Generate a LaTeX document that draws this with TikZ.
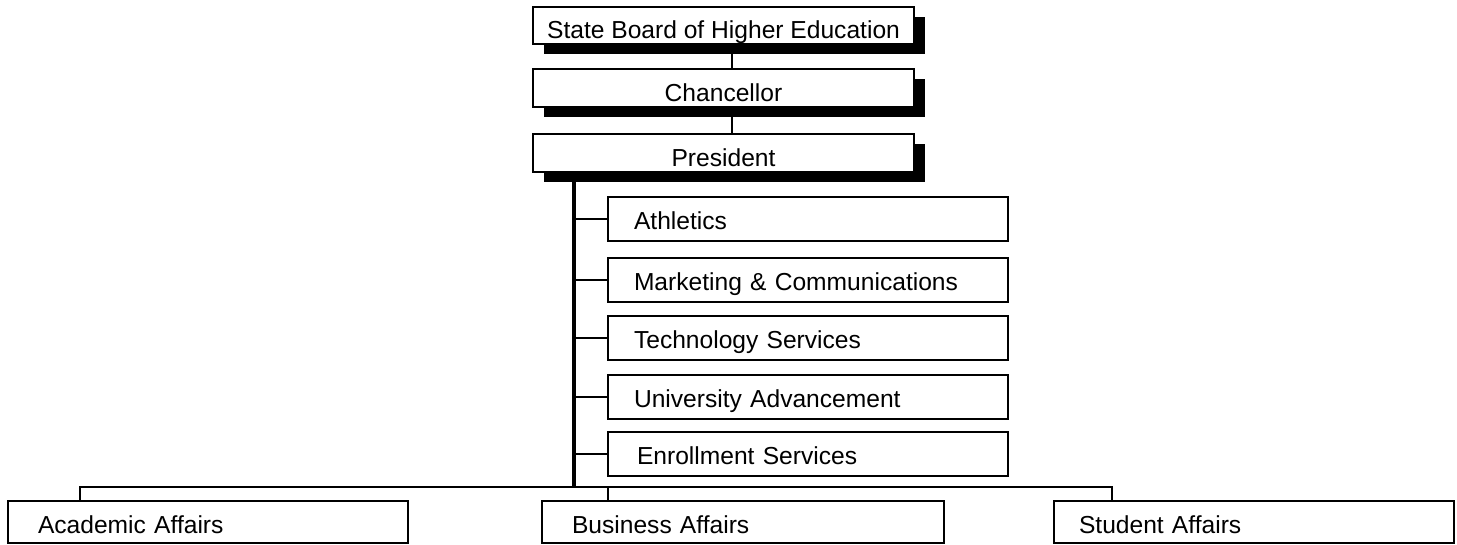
\documentclass[tikz,border=0pt]{standalone}
\usepackage{fontspec}
\setmainfont{Liberation Sans}
\usetikzlibrary{shadows}
\begin{document}
\begin{tikzpicture}[x=1pt,y=-1pt,
  every node/.style={font=\fontsize{24.6}{30}\selectfont},
  topbox/.style={draw,line width=2pt,fill=white,anchor=north west,minimum width=381pt,
    inner ysep=0pt,text height=26pt,text depth=0pt,
    drop shadow={shadow xshift=11pt,shadow yshift=-10pt,fill=black,opacity=1}},
  subbox/.style={draw,line width=2pt,fill=white,anchor=north west,text width=348pt,align=left,
    inner xsep=26pt,inner ysep=0pt,minimum height=44pt,text height=20pt,text depth=0pt},
  botbox/.style={draw,line width=2pt,fill=white,anchor=north west,text width=#1,align=left,
    inner xsep=30pt,inner ysep=0pt,minimum height=42pt,text height=22pt,text depth=0pt},
  conn/.style={line width=2pt},
  trunkline/.style={line width=3.2pt}]
\useasboundingbox (0,0) rectangle (1457,544);
% top chain
\node[topbox,minimum height=37pt] (sbhe) at (532,6) {State Board of Higher Education};
\node[topbox,minimum height=38pt] (chan) at (532,68) {Chancellor};
\node[topbox,minimum height=38pt] (pres) at (532,133) {President};
\draw[conn] ([xshift=8.5pt]sbhe.south) -- ([xshift=8.5pt]chan.north);
\draw[conn] ([xshift=8.5pt]chan.south) -- ([xshift=8.5pt]pres.north);
% sub boxes
\node[subbox] (ath) at (607,196) {Athletics};
\node[subbox] (mkt) at (607,257) {Marketing \& Communications};
\node[subbox] (tech) at (607,315) {Technology Services};
\node[subbox] (univ) at (607,374) {University Advancement};
\node[subbox,inner xsep=29pt,text width=342pt] (enr) at (607,431) {Enrollment Services};
% trunk
\coordinate (trunk) at (574,487);
\coordinate (ja) at (80,487);
\coordinate (jb) at (608,487);
\coordinate (jc) at (1112,487);
\draw[trunkline] ([yshift=-9pt]pres.south -| trunk) -- ([yshift=-1pt]trunk);
\foreach \b in {ath,mkt,tech,univ,enr}{
  \draw[conn] (\b.west -| trunk) -- (\b.west);
}
% bottom boxes
\node[botbox=340pt] (aa) at (7,500) {Academic Affairs};
\node[botbox=342pt] (ba) at (541,500) {Business Affairs};
\node[botbox=350pt,inner xsep=25pt] (sa) at (1053,500) {Student Affairs};
\draw[conn] (aa.north -| ja) -- (ja) -- (jc) -- (sa.north -| jc);
\draw[conn] (jb) -- (ba.north -| jb);
\end{tikzpicture}
\end{document}
